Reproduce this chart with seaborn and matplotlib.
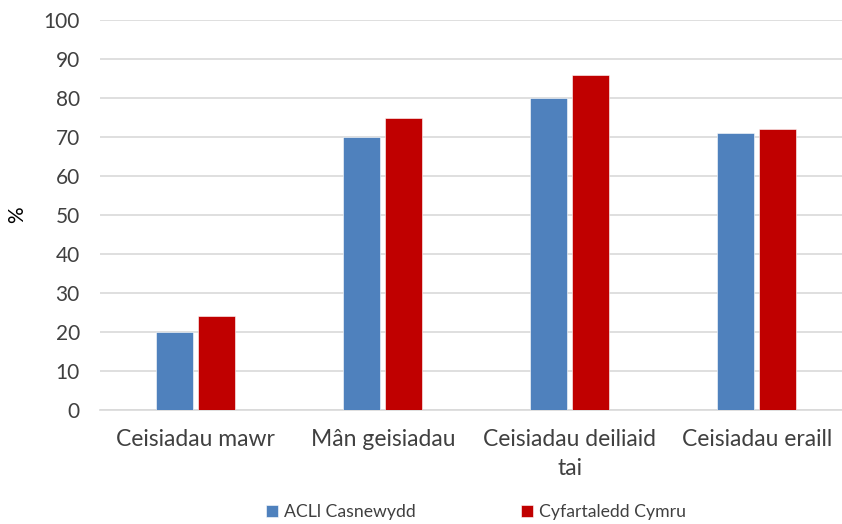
import matplotlib
matplotlib.use("Agg")
import matplotlib.pyplot as plt
import seaborn as sns
import pandas as pd

categories = ["Ceisiadau mawr", "Mân geisiadau", "Ceisiadau deiliaid\ntai", "Ceisiadau eraill"]
series_names = ["ACLl Casnewydd", "Cyfartaledd Cymru"]
newport = [20, 70, 80, 71]
wales = [24, 75, 86, 72]
yticks = [0, 10, 20, 30, 40, 50, 60, 70, 80, 90, 100]

df = pd.DataFrame({
    "cat": categories * 2,
    "series": [series_names[0]] * 4 + [series_names[1]] * 4,
    "value": newport + wales,
})

sns.set_theme(style="white")
plt.rcParams["font.family"] = ["Lato", "DejaVu Sans"]

fig = plt.figure(figsize=(8.42, 5.24), dpi=100)
ax = fig.add_axes([100 / 842, 1 - 410 / 524, 742 / 842, 390 / 524])

sns.barplot(data=df, x="cat", y="value", hue="series", order=categories,
            hue_order=series_names, palette=["#4F81BD", "#C00000"], saturation=1,
            width=0.449, gap=0.12, ax=ax, legend=True, zorder=3,
            edgecolor="white", linewidth=0.4)

ax.set_xlim(-0.513, 3.455)
ax.set_ylim(0, 100)
ax.set_yticks(yticks)
ax.set_yticklabels([str(v) for v in yticks], fontsize=15, color="#404040")
ax.tick_params(axis="x", labelsize=16.5, colors="#404040", length=0, pad=14)
ax.tick_params(axis="y", length=0, pad=14.5)
for lbl in ax.get_xticklabels():
    lbl.set_linespacing(1.45)
ax.grid(axis="y", color="#d9d9d9", linewidth=1.2, zorder=0)
ax.set_axisbelow(True)
for s in ["top", "right", "left"]:
    ax.spines[s].set_visible(False)
ax.spines["bottom"].set_color("#d9d9d9")
ax.spines["bottom"].set_linewidth(1.2)
ax.set_xlabel("")
ax.set_ylabel("%", fontsize=15, color="black", labelpad=12)

handles, labels = ax.get_legend_handles_labels()
ax.legend_.remove()
fig.legend(handles, labels, loc="center", bbox_to_anchor=(476 / 842, 1 - 512 / 524),
           ncol=2, frameon=False, fontsize=12.7, handlelength=0.65, handleheight=0.65,
           columnspacing=6.0, handletextpad=0.35, labelcolor="#404040")

fig.savefig("out.png", dpi=100)
